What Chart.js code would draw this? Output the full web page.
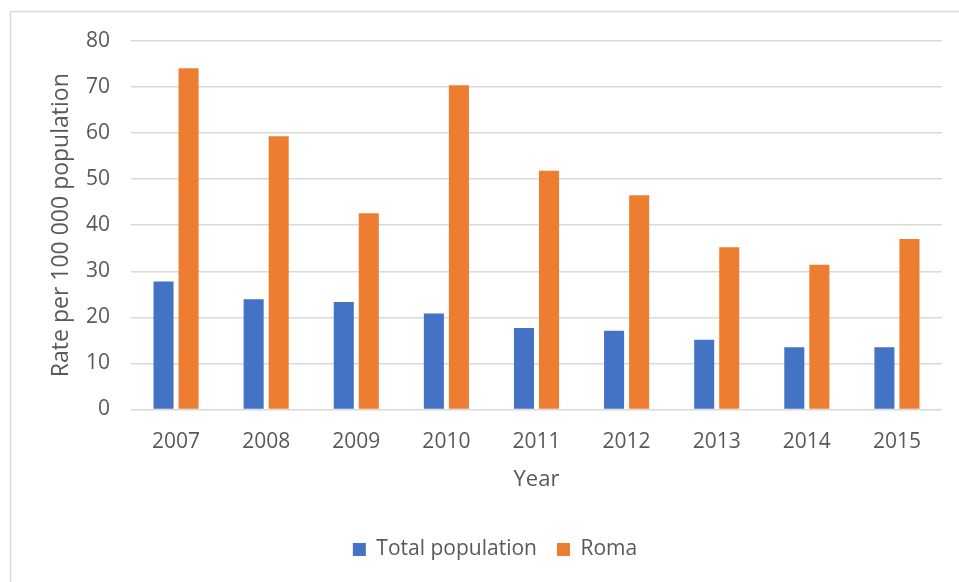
<!DOCTYPE html>
<html>
<head>
<meta charset="utf-8">
<script src="https://cdn.jsdelivr.net/npm/chart.js@4/dist/chart.umd.min.js"></script>
<style>
html,body{margin:0;padding:0;background:#fff;}
#wrap{position:relative;width:959px;height:582px;}
</style>
</head>
<body>
<div id="wrap"><canvas id="c"></canvas></div>
<script>
const years = ["2007","2008","2009","2010","2011","2012","2013","2014","2015"];
const totalPopulation = [27.8, 23.9, 23.3, 20.8, 17.7, 17.1, 15.1, 13.5, 13.5];
const roma = [74.1, 59.3, 42.6, 70.4, 51.8, 46.5, 35.2, 31.4, 37.0];
const seriesNames = ["Total population", "Roma"];
const yTitle = "Rate per 100 000 population";
const xTitle = "Year";

const FONT = "'Open Sans', sans-serif";
const TXT = "#595959";

const borderPlugin = {
  id: 'outerBorder',
  beforeDraw(chart) {
    const ctx = chart.ctx;
    ctx.save();
    ctx.fillStyle = '#fff';
    ctx.fillRect(0, 0, chart.width, chart.height);
    ctx.strokeStyle = '#d9d9d9';
    ctx.lineWidth = 1.5;
    ctx.strokeRect(10.5, 11.5, 960, 600);
    ctx.restore();
  }
};

new Chart(document.getElementById('c'), {
  type: 'bar',
  data: {
    labels: years,
    datasets: [
      { label: seriesNames[0], data: totalPopulation, backgroundColor: '#4472C4', borderWidth: 0 },
      { label: seriesNames[1], data: roma, backgroundColor: '#ED7D31', borderWidth: 0 }
    ]
  },
  options: {
    responsive: true,
    maintainAspectRatio: false,
    animation: false,
    devicePixelRatio: 1,
    categoryPercentage: 0.556,
    barPercentage: 0.8,
    layout: { padding: { left: 48, right: 17, top: 41, bottom: 12 } },
    plugins: {
      tooltip: { enabled: false },
      legend: {
        position: 'bottom',
        labels: {
          font: { family: FONT, size: 21 },
          color: TXT,
          boxWidth: 13,
          boxHeight: 13,
          padding: 20
        }
      }
    },
    scales: {
      x: {
        grid: { display: false, drawTicks: false },
        border: { display: false },
        ticks: { font: { family: FONT, size: 21 }, color: TXT, padding: 20 },
        title: { display: true, text: xTitle, font: { family: FONT, size: 22 }, color: TXT, padding: { top: -8, bottom: 26 } }
      },
      y: {
        min: 0, max: 80,
        afterFit(scale) { scale.width = 83; },
        grid: { color: '#d9d9d9', lineWidth: 1.5, drawTicks: false },
        border: { display: false },
        ticks: { stepSize: 10, font: { family: FONT, size: 21 }, color: TXT, padding: 21 },
        title: { display: true, text: yTitle, font: { family: FONT, size: 23 }, color: TXT, padding: { top: 0, bottom: 0 } }
      }
    }
  },
  plugins: [borderPlugin]
});
</script>
</body>
</html>
